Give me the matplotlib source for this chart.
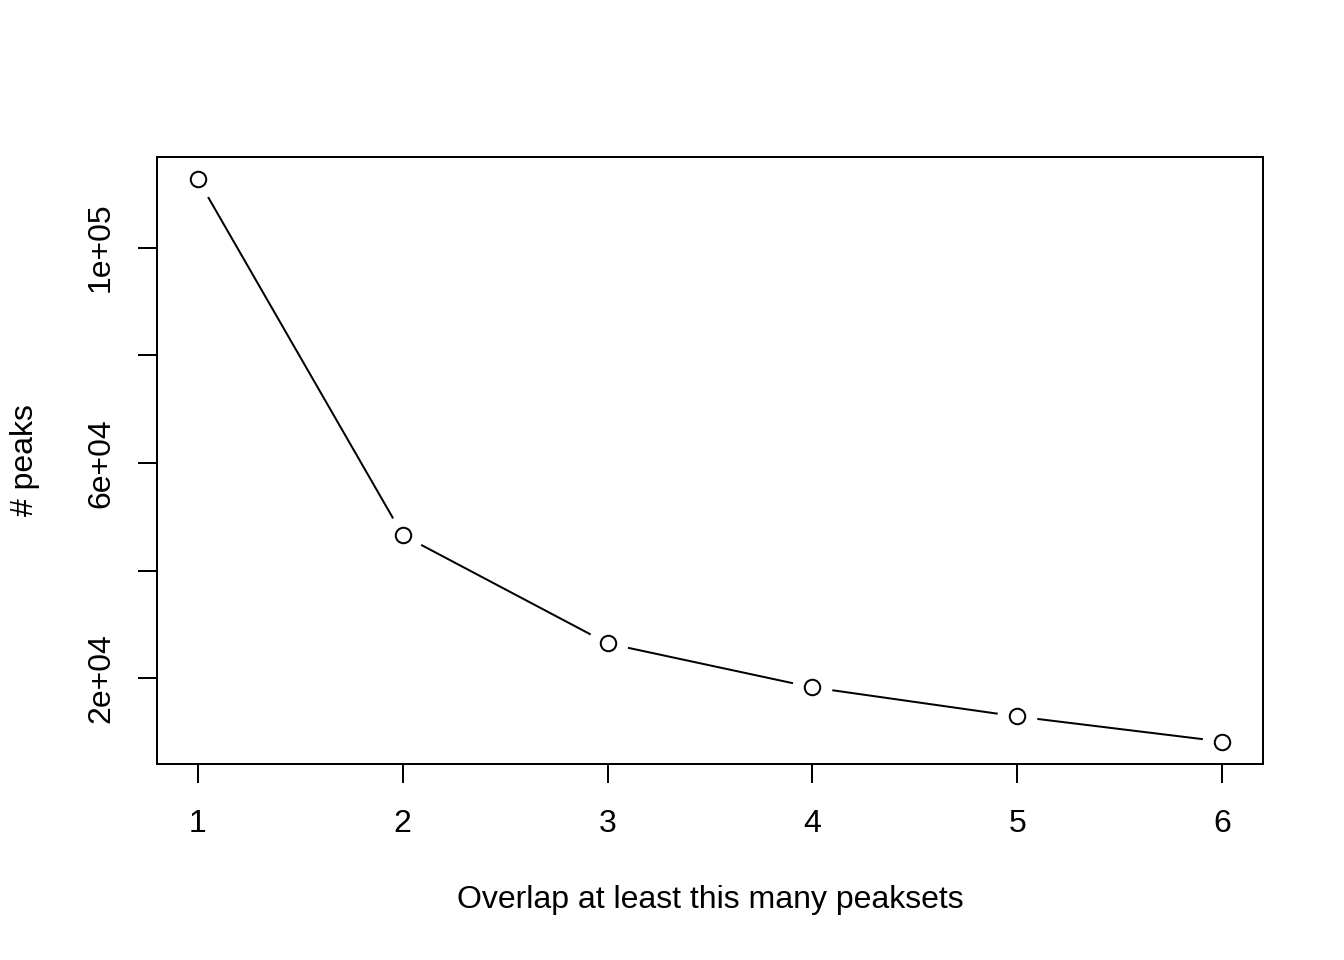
import matplotlib
matplotlib.use("Agg")
import matplotlib.pyplot as plt
from matplotlib.patches import Rectangle

plt.rcParams['font.family'] = ['Liberation Sans', 'DejaVu Sans']

overlap = [1, 2, 3, 4, 5, 6]
peaks = [112650, 46600, 26500, 18330, 12930, 8280]
xticks = [1, 2, 3, 4, 5, 6]
yticks = [20000, 40000, 60000, 80000, 100000]
ytick_labels = ["2e+04", "", "6e+04", "", "1e+05"]

W, H = 1344, 960
fig = plt.figure(figsize=(7, 5), dpi=192)
ax = fig.add_axes([157 / W, 1 - 764 / H, (1263 - 157) / W, (764 - 157) / H])

ax.plot(overlap, peaks, color='black', lw=0.75, zorder=2)
ax.plot(overlap, peaks, linestyle='none', marker='o', markersize=15,
        markerfacecolor='white', markeredgecolor='white', markeredgewidth=0, zorder=3)
ax.plot(overlap, peaks, linestyle='none', marker='o', markersize=5.8,
        markerfacecolor='none', markeredgecolor='black', markeredgewidth=0.75, zorder=4)

rng = max(peaks) - min(peaks)
ax.set_ylim(min(peaks) - 0.04 * rng, max(peaks) + 0.04 * rng)
ax.set_xlim(0.8, 6.2)

ax.set_xticks(xticks)
ax.set_xticklabels([str(v) for v in xticks])
ax.set_yticks(yticks)
ax.set_yticklabels(ytick_labels, rotation=90, va='center')

ax.tick_params(axis='both', length=7.2, width=0.75, labelsize=12, direction='out')
ax.tick_params(axis='x', pad=9.7)
ax.tick_params(axis='y', pad=8.2)

for s in ax.spines.values():
    s.set_visible(False)
ax.patch.set_visible(False)
ax.add_patch(Rectangle((0, 0), 1, 1, transform=ax.transAxes, fill=False, lw=0.75,
                       edgecolor='black', clip_on=False, zorder=5))

fig.text(710 / W, 1 - 900 / H, "Overlap at least this many peaksets", ha='center', va='center', fontsize=12)
fig.text(25 / W, 1 - 460 / H, "# peaks", ha='center', va='center', rotation=90, fontsize=12)

fig.savefig("out.png", dpi=192)
